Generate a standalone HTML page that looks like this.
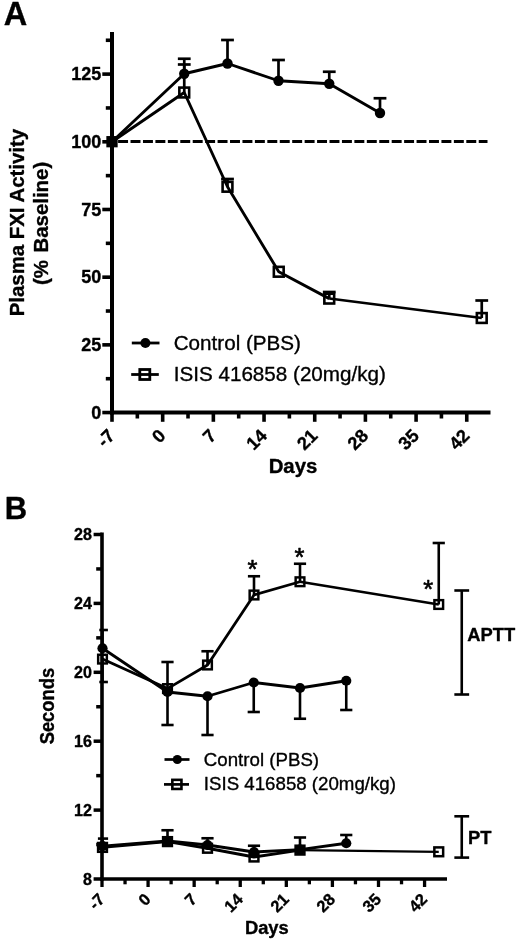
<!DOCTYPE html>
<html><head><meta charset="utf-8"><title>Figure</title>
<style>
html,body{margin:0;padding:0;background:#fff;}
body{width:520px;height:943px;overflow:hidden;font-family:"Liberation Sans",sans-serif;}
svg{display:block;will-change:transform;}
</style></head><body>
<svg width="520" height="943" viewBox="0 0 520 943">
<rect width="520" height="943" fill="#fff"/>
<line x1="112.00" y1="32.00" x2="112.00" y2="414.55" stroke="#000" stroke-width="4.0" />
<line x1="110.00" y1="412.55" x2="490.50" y2="412.55" stroke="#000" stroke-width="4.0" />
<line x1="102.30" y1="412.55" x2="112.00" y2="412.55" stroke="#000" stroke-width="3.6" />
<text transform="translate(101.30 418.75) scale(1.0 1.03)" font-family="Liberation Sans, sans-serif" font-size="18.0" font-weight="bold" text-anchor="end" fill="#000" stroke="#000" stroke-width="0.35" stroke-linejoin="round" >0</text>
<line x1="105.80" y1="378.71" x2="112.00" y2="378.71" stroke="#000" stroke-width="3.6" />
<line x1="102.30" y1="344.86" x2="112.00" y2="344.86" stroke="#000" stroke-width="3.6" />
<text transform="translate(101.30 351.06) scale(1.0 1.03)" font-family="Liberation Sans, sans-serif" font-size="18.0" font-weight="bold" text-anchor="end" fill="#000" stroke="#000" stroke-width="0.35" stroke-linejoin="round" >25</text>
<line x1="105.80" y1="311.02" x2="112.00" y2="311.02" stroke="#000" stroke-width="3.6" />
<line x1="102.30" y1="277.18" x2="112.00" y2="277.18" stroke="#000" stroke-width="3.6" />
<text transform="translate(101.30 283.38) scale(1.0 1.03)" font-family="Liberation Sans, sans-serif" font-size="18.0" font-weight="bold" text-anchor="end" fill="#000" stroke="#000" stroke-width="0.35" stroke-linejoin="round" >50</text>
<line x1="105.80" y1="243.33" x2="112.00" y2="243.33" stroke="#000" stroke-width="3.6" />
<line x1="102.30" y1="209.49" x2="112.00" y2="209.49" stroke="#000" stroke-width="3.6" />
<text transform="translate(101.30 215.69) scale(1.0 1.03)" font-family="Liberation Sans, sans-serif" font-size="18.0" font-weight="bold" text-anchor="end" fill="#000" stroke="#000" stroke-width="0.35" stroke-linejoin="round" >75</text>
<line x1="105.80" y1="175.64" x2="112.00" y2="175.64" stroke="#000" stroke-width="3.6" />
<line x1="102.30" y1="141.80" x2="112.00" y2="141.80" stroke="#000" stroke-width="3.6" />
<text transform="translate(101.30 148.00) scale(1.0 1.03)" font-family="Liberation Sans, sans-serif" font-size="18.0" font-weight="bold" text-anchor="end" fill="#000" stroke="#000" stroke-width="0.35" stroke-linejoin="round" >100</text>
<line x1="105.80" y1="107.96" x2="112.00" y2="107.96" stroke="#000" stroke-width="3.6" />
<line x1="102.30" y1="74.11" x2="112.00" y2="74.11" stroke="#000" stroke-width="3.6" />
<text transform="translate(101.30 80.31) scale(1.0 1.03)" font-family="Liberation Sans, sans-serif" font-size="18.0" font-weight="bold" text-anchor="end" fill="#000" stroke="#000" stroke-width="0.35" stroke-linejoin="round" >125</text>
<line x1="105.80" y1="40.27" x2="112.00" y2="40.27" stroke="#000" stroke-width="3.6" />
<line x1="112.00" y1="412.55" x2="112.00" y2="421.80" stroke="#000" stroke-width="3.6" />
<text transform="translate(116.00 436.80) rotate(-45)" font-family="Liberation Sans, sans-serif" font-size="18.2" font-weight="bold" text-anchor="end" fill="#000" stroke="#000" stroke-width="0.35" stroke-linejoin="round" >-7</text>
<line x1="137.34" y1="412.55" x2="137.34" y2="418.50" stroke="#000" stroke-width="3.6" />
<line x1="162.68" y1="412.55" x2="162.68" y2="421.80" stroke="#000" stroke-width="3.6" />
<text transform="translate(166.68 436.80) rotate(-45)" font-family="Liberation Sans, sans-serif" font-size="18.2" font-weight="bold" text-anchor="end" fill="#000" stroke="#000" stroke-width="0.35" stroke-linejoin="round" >0</text>
<line x1="188.02" y1="412.55" x2="188.02" y2="418.50" stroke="#000" stroke-width="3.6" />
<line x1="213.36" y1="412.55" x2="213.36" y2="421.80" stroke="#000" stroke-width="3.6" />
<text transform="translate(217.36 436.80) rotate(-45)" font-family="Liberation Sans, sans-serif" font-size="18.2" font-weight="bold" text-anchor="end" fill="#000" stroke="#000" stroke-width="0.35" stroke-linejoin="round" >7</text>
<line x1="238.70" y1="412.55" x2="238.70" y2="418.50" stroke="#000" stroke-width="3.6" />
<line x1="264.04" y1="412.55" x2="264.04" y2="421.80" stroke="#000" stroke-width="3.6" />
<text transform="translate(268.04 436.80) rotate(-45)" font-family="Liberation Sans, sans-serif" font-size="18.2" font-weight="bold" text-anchor="end" fill="#000" stroke="#000" stroke-width="0.35" stroke-linejoin="round" >14</text>
<line x1="289.38" y1="412.55" x2="289.38" y2="418.50" stroke="#000" stroke-width="3.6" />
<line x1="314.72" y1="412.55" x2="314.72" y2="421.80" stroke="#000" stroke-width="3.6" />
<text transform="translate(318.72 436.80) rotate(-45)" font-family="Liberation Sans, sans-serif" font-size="18.2" font-weight="bold" text-anchor="end" fill="#000" stroke="#000" stroke-width="0.35" stroke-linejoin="round" >21</text>
<line x1="340.06" y1="412.55" x2="340.06" y2="418.50" stroke="#000" stroke-width="3.6" />
<line x1="365.40" y1="412.55" x2="365.40" y2="421.80" stroke="#000" stroke-width="3.6" />
<text transform="translate(369.40 436.80) rotate(-45)" font-family="Liberation Sans, sans-serif" font-size="18.2" font-weight="bold" text-anchor="end" fill="#000" stroke="#000" stroke-width="0.35" stroke-linejoin="round" >28</text>
<line x1="390.74" y1="412.55" x2="390.74" y2="418.50" stroke="#000" stroke-width="3.6" />
<line x1="416.08" y1="412.55" x2="416.08" y2="421.80" stroke="#000" stroke-width="3.6" />
<text transform="translate(420.08 436.80) rotate(-45)" font-family="Liberation Sans, sans-serif" font-size="18.2" font-weight="bold" text-anchor="end" fill="#000" stroke="#000" stroke-width="0.35" stroke-linejoin="round" >35</text>
<line x1="441.42" y1="412.55" x2="441.42" y2="418.50" stroke="#000" stroke-width="3.6" />
<line x1="466.76" y1="412.55" x2="466.76" y2="421.80" stroke="#000" stroke-width="3.6" />
<text transform="translate(470.76 436.80) rotate(-45)" font-family="Liberation Sans, sans-serif" font-size="18.2" font-weight="bold" text-anchor="end" fill="#000" stroke="#000" stroke-width="0.35" stroke-linejoin="round" >42</text>
<text transform="translate(293.00 473.00) scale(1.0 1.03)" font-family="Liberation Sans, sans-serif" font-size="20.4" font-weight="bold" text-anchor="middle" fill="#000" stroke="#000" stroke-width="0.35" stroke-linejoin="round" >Days</text>
<text transform="translate(24.20 222.60) rotate(-90) scale(1.0 1.02)" font-family="Liberation Sans, sans-serif" font-size="20.4" font-weight="bold" text-anchor="middle" fill="#000" stroke="#000" stroke-width="0.35" stroke-linejoin="round" >Plasma FXI Activity</text>
<text transform="translate(48.20 223.40) rotate(-90) scale(1.0 1.02)" font-family="Liberation Sans, sans-serif" font-size="20.4" font-weight="bold" text-anchor="middle" fill="#000" stroke="#000" stroke-width="0.35" stroke-linejoin="round" word-spacing="1.9">(% Baseline)</text>
<text transform="translate(3.80 25.00)" font-family="Liberation Sans, sans-serif" font-size="32.5" font-weight="bold" text-anchor="start" fill="#000" stroke="#000" stroke-width="0.35" stroke-linejoin="round" >A</text>
<line x1="112.00" y1="141.60" x2="487.50" y2="141.60" stroke="#000" stroke-width="3.0" stroke-dasharray="9.95 2.486" stroke-dashoffset="6.34"/>
<line x1="184.25" y1="73.75" x2="184.25" y2="58.75" stroke="#000" stroke-width="2.7" />
<line x1="177.85" y1="58.75" x2="190.65" y2="58.75" stroke="#000" stroke-width="2.7" />
<line x1="227.50" y1="63.50" x2="227.50" y2="40.00" stroke="#000" stroke-width="2.7" />
<line x1="221.10" y1="40.00" x2="233.90" y2="40.00" stroke="#000" stroke-width="2.7" />
<line x1="278.50" y1="80.75" x2="278.50" y2="60.00" stroke="#000" stroke-width="2.7" />
<line x1="272.10" y1="60.00" x2="284.90" y2="60.00" stroke="#000" stroke-width="2.7" />
<line x1="329.25" y1="83.75" x2="329.25" y2="71.75" stroke="#000" stroke-width="2.7" />
<line x1="322.85" y1="71.75" x2="335.65" y2="71.75" stroke="#000" stroke-width="2.7" />
<line x1="380.00" y1="113.00" x2="380.00" y2="98.25" stroke="#000" stroke-width="2.7" />
<line x1="373.60" y1="98.25" x2="386.40" y2="98.25" stroke="#000" stroke-width="2.7" />
<line x1="184.25" y1="92.50" x2="184.25" y2="64.50" stroke="#000" stroke-width="2.7" />
<line x1="177.85" y1="64.50" x2="190.65" y2="64.50" stroke="#000" stroke-width="2.7" />
<line x1="227.50" y1="186.75" x2="227.50" y2="179.00" stroke="#000" stroke-width="2.7" />
<line x1="221.10" y1="179.00" x2="233.90" y2="179.00" stroke="#000" stroke-width="2.7" />
<line x1="329.25" y1="298.60" x2="329.25" y2="292.00" stroke="#000" stroke-width="2.7" />
<line x1="322.85" y1="292.00" x2="335.65" y2="292.00" stroke="#000" stroke-width="2.7" />
<line x1="481.75" y1="318.00" x2="481.75" y2="300.50" stroke="#000" stroke-width="2.7" />
<line x1="475.35" y1="300.50" x2="488.15" y2="300.50" stroke="#000" stroke-width="2.7" />
<polyline points="112.00,141.70 184.25,73.75 227.50,63.50 278.50,80.75 329.25,83.75 380.00,113.00" fill="none" stroke="#000" stroke-width="2.9" stroke-linejoin="round"/>
<polyline points="112.00,141.70 184.25,92.50 227.50,186.75 278.75,271.75 329.25,298.60" fill="none" stroke="#000" stroke-width="2.9" stroke-linejoin="round"/>
<polyline points="329.25,298.60 481.75,318.00" fill="none" stroke="#000" stroke-width="2.5" stroke-linejoin="round"/>
<circle cx="184.25" cy="73.75" r="5.2" fill="#000"/>
<circle cx="227.50" cy="63.50" r="5.2" fill="#000"/>
<circle cx="278.50" cy="80.75" r="5.2" fill="#000"/>
<circle cx="329.25" cy="83.75" r="5.2" fill="#000"/>
<circle cx="380.00" cy="113.00" r="5.2" fill="#000"/>
<circle cx="112.00" cy="141.70" r="5.2" fill="#000"/>
<rect x="179.35" y="87.60" width="9.8" height="9.8" fill="none" stroke="#000" stroke-width="2.6"/>
<rect x="222.60" y="181.85" width="9.8" height="9.8" fill="none" stroke="#000" stroke-width="2.6"/>
<rect x="273.85" y="266.85" width="9.8" height="9.8" fill="none" stroke="#000" stroke-width="2.6"/>
<rect x="324.35" y="293.70" width="9.8" height="9.8" fill="none" stroke="#000" stroke-width="2.6"/>
<rect x="476.85" y="313.10" width="9.8" height="9.8" fill="none" stroke="#000" stroke-width="2.6"/>
<rect x="107.50" y="137.20" width="9.0" height="9.0" fill="#000" stroke="#000" stroke-width="2.3"/>
<line x1="131.80" y1="343.00" x2="159.50" y2="343.00" stroke="#000" stroke-width="2.8" />
<circle cx="145.40" cy="343.00" r="5.0" fill="#000"/>
<line x1="131.20" y1="374.50" x2="158.80" y2="374.50" stroke="#000" stroke-width="2.8" />
<rect x="139.80" y="369.50" width="10.0" height="10.0" fill="none" stroke="#000" stroke-width="2.8"/>
<text transform="translate(173.70 350.10) scale(1.0 1.02)" font-family="Liberation Sans, sans-serif" font-size="20.65" font-weight="normal" text-anchor="start" fill="#000" stroke="#000" stroke-width="0.35" stroke-linejoin="round" >Control (PBS)</text>
<text transform="translate(173.70 380.70) scale(1.0 1.02)" font-family="Liberation Sans, sans-serif" font-size="20.65" font-weight="normal" text-anchor="start" fill="#000" stroke="#000" stroke-width="0.35" stroke-linejoin="round" >ISIS 416858 (20mg/kg)</text>
<line x1="102.00" y1="532.50" x2="102.00" y2="880.80" stroke="#000" stroke-width="3.6" />
<line x1="100.20" y1="879.00" x2="447.00" y2="879.00" stroke="#000" stroke-width="3.6" />
<line x1="93.60" y1="879.00" x2="102.00" y2="879.00" stroke="#000" stroke-width="3.5" />
<text transform="translate(92.00 884.80) scale(1.0 1.03)" font-family="Liberation Sans, sans-serif" font-size="16.1" font-weight="bold" text-anchor="end" fill="#000" stroke="#000" stroke-width="0.35" stroke-linejoin="round" >8</text>
<line x1="96.20" y1="844.55" x2="102.00" y2="844.55" stroke="#000" stroke-width="3.5" />
<line x1="93.60" y1="810.10" x2="102.00" y2="810.10" stroke="#000" stroke-width="3.5" />
<text transform="translate(92.00 815.90) scale(1.0 1.03)" font-family="Liberation Sans, sans-serif" font-size="16.1" font-weight="bold" text-anchor="end" fill="#000" stroke="#000" stroke-width="0.35" stroke-linejoin="round" >12</text>
<line x1="96.20" y1="775.65" x2="102.00" y2="775.65" stroke="#000" stroke-width="3.5" />
<line x1="93.60" y1="741.20" x2="102.00" y2="741.20" stroke="#000" stroke-width="3.5" />
<text transform="translate(92.00 747.00) scale(1.0 1.03)" font-family="Liberation Sans, sans-serif" font-size="16.1" font-weight="bold" text-anchor="end" fill="#000" stroke="#000" stroke-width="0.35" stroke-linejoin="round" >16</text>
<line x1="96.20" y1="706.75" x2="102.00" y2="706.75" stroke="#000" stroke-width="3.5" />
<line x1="93.60" y1="672.30" x2="102.00" y2="672.30" stroke="#000" stroke-width="3.5" />
<text transform="translate(92.00 678.10) scale(1.0 1.03)" font-family="Liberation Sans, sans-serif" font-size="16.1" font-weight="bold" text-anchor="end" fill="#000" stroke="#000" stroke-width="0.35" stroke-linejoin="round" >20</text>
<line x1="96.20" y1="637.85" x2="102.00" y2="637.85" stroke="#000" stroke-width="3.5" />
<line x1="93.60" y1="603.40" x2="102.00" y2="603.40" stroke="#000" stroke-width="3.5" />
<text transform="translate(92.00 609.20) scale(1.0 1.03)" font-family="Liberation Sans, sans-serif" font-size="16.1" font-weight="bold" text-anchor="end" fill="#000" stroke="#000" stroke-width="0.35" stroke-linejoin="round" >24</text>
<line x1="96.20" y1="568.95" x2="102.00" y2="568.95" stroke="#000" stroke-width="3.5" />
<line x1="93.60" y1="534.50" x2="102.00" y2="534.50" stroke="#000" stroke-width="3.5" />
<text transform="translate(92.00 540.30) scale(1.0 1.03)" font-family="Liberation Sans, sans-serif" font-size="16.1" font-weight="bold" text-anchor="end" fill="#000" stroke="#000" stroke-width="0.35" stroke-linejoin="round" >28</text>
<line x1="102.00" y1="879.00" x2="102.00" y2="887.00" stroke="#000" stroke-width="3.3" />
<text transform="translate(105.70 900.40) rotate(-45)" font-family="Liberation Sans, sans-serif" font-size="16.4" font-weight="bold" text-anchor="end" fill="#000" stroke="#000" stroke-width="0.35" stroke-linejoin="round" >-7</text>
<line x1="125.04" y1="879.00" x2="125.04" y2="884.30" stroke="#000" stroke-width="3.3" />
<line x1="148.08" y1="879.00" x2="148.08" y2="887.00" stroke="#000" stroke-width="3.3" />
<text transform="translate(151.78 900.40) rotate(-45)" font-family="Liberation Sans, sans-serif" font-size="16.4" font-weight="bold" text-anchor="end" fill="#000" stroke="#000" stroke-width="0.35" stroke-linejoin="round" >0</text>
<line x1="171.12" y1="879.00" x2="171.12" y2="884.30" stroke="#000" stroke-width="3.3" />
<line x1="194.16" y1="879.00" x2="194.16" y2="887.00" stroke="#000" stroke-width="3.3" />
<text transform="translate(197.86 900.40) rotate(-45)" font-family="Liberation Sans, sans-serif" font-size="16.4" font-weight="bold" text-anchor="end" fill="#000" stroke="#000" stroke-width="0.35" stroke-linejoin="round" >7</text>
<line x1="217.20" y1="879.00" x2="217.20" y2="884.30" stroke="#000" stroke-width="3.3" />
<line x1="240.24" y1="879.00" x2="240.24" y2="887.00" stroke="#000" stroke-width="3.3" />
<text transform="translate(243.94 900.40) rotate(-45)" font-family="Liberation Sans, sans-serif" font-size="16.4" font-weight="bold" text-anchor="end" fill="#000" stroke="#000" stroke-width="0.35" stroke-linejoin="round" >14</text>
<line x1="263.28" y1="879.00" x2="263.28" y2="884.30" stroke="#000" stroke-width="3.3" />
<line x1="286.32" y1="879.00" x2="286.32" y2="887.00" stroke="#000" stroke-width="3.3" />
<text transform="translate(290.02 900.40) rotate(-45)" font-family="Liberation Sans, sans-serif" font-size="16.4" font-weight="bold" text-anchor="end" fill="#000" stroke="#000" stroke-width="0.35" stroke-linejoin="round" >21</text>
<line x1="309.36" y1="879.00" x2="309.36" y2="884.30" stroke="#000" stroke-width="3.3" />
<line x1="332.40" y1="879.00" x2="332.40" y2="887.00" stroke="#000" stroke-width="3.3" />
<text transform="translate(336.10 900.40) rotate(-45)" font-family="Liberation Sans, sans-serif" font-size="16.4" font-weight="bold" text-anchor="end" fill="#000" stroke="#000" stroke-width="0.35" stroke-linejoin="round" >28</text>
<line x1="355.45" y1="879.00" x2="355.45" y2="884.30" stroke="#000" stroke-width="3.3" />
<line x1="378.49" y1="879.00" x2="378.49" y2="887.00" stroke="#000" stroke-width="3.3" />
<text transform="translate(382.19 900.40) rotate(-45)" font-family="Liberation Sans, sans-serif" font-size="16.4" font-weight="bold" text-anchor="end" fill="#000" stroke="#000" stroke-width="0.35" stroke-linejoin="round" >35</text>
<line x1="401.53" y1="879.00" x2="401.53" y2="884.30" stroke="#000" stroke-width="3.3" />
<line x1="424.57" y1="879.00" x2="424.57" y2="887.00" stroke="#000" stroke-width="3.3" />
<text transform="translate(428.27 900.40) rotate(-45)" font-family="Liberation Sans, sans-serif" font-size="16.4" font-weight="bold" text-anchor="end" fill="#000" stroke="#000" stroke-width="0.35" stroke-linejoin="round" >42</text>
<text transform="translate(266.80 934.30)" font-family="Liberation Sans, sans-serif" font-size="18.35" font-weight="bold" text-anchor="middle" fill="#000" stroke="#000" stroke-width="0.35" stroke-linejoin="round" >Days</text>
<text transform="translate(53.50 706.10) rotate(-90) scale(1.0 1.06)" font-family="Liberation Sans, sans-serif" font-size="18.35" font-weight="bold" text-anchor="middle" fill="#000" stroke="#000" stroke-width="0.35" stroke-linejoin="round" >Seconds</text>
<text transform="translate(4.80 518.80) scale(1.0 1.04)" font-family="Liberation Sans, sans-serif" font-size="31" font-weight="bold" text-anchor="start" fill="#000" stroke="#000" stroke-width="0.35" stroke-linejoin="round" >B</text>
<line x1="102.50" y1="648.25" x2="102.50" y2="630.00" stroke="#000" stroke-width="2.6" />
<line x1="99.30" y1="630.00" x2="107.90" y2="630.00" stroke="#000" stroke-width="2.6" />
<line x1="167.50" y1="692.00" x2="167.50" y2="725.00" stroke="#000" stroke-width="2.6" />
<line x1="161.40" y1="725.00" x2="173.60" y2="725.00" stroke="#000" stroke-width="2.6" />
<line x1="207.50" y1="696.25" x2="207.50" y2="735.00" stroke="#000" stroke-width="2.6" />
<line x1="201.40" y1="735.00" x2="213.60" y2="735.00" stroke="#000" stroke-width="2.6" />
<line x1="253.75" y1="682.50" x2="253.75" y2="712.00" stroke="#000" stroke-width="2.6" />
<line x1="247.65" y1="712.00" x2="259.85" y2="712.00" stroke="#000" stroke-width="2.6" />
<line x1="300.00" y1="688.00" x2="300.00" y2="718.75" stroke="#000" stroke-width="2.6" />
<line x1="293.90" y1="718.75" x2="306.10" y2="718.75" stroke="#000" stroke-width="2.6" />
<line x1="346.25" y1="680.75" x2="346.25" y2="710.00" stroke="#000" stroke-width="2.6" />
<line x1="340.15" y1="710.00" x2="352.35" y2="710.00" stroke="#000" stroke-width="2.6" />
<line x1="102.50" y1="659.10" x2="102.50" y2="682.00" stroke="#000" stroke-width="2.6" />
<line x1="99.30" y1="682.00" x2="107.90" y2="682.00" stroke="#000" stroke-width="2.6" />
<line x1="167.50" y1="688.60" x2="167.50" y2="662.00" stroke="#000" stroke-width="2.6" />
<line x1="161.40" y1="662.00" x2="173.60" y2="662.00" stroke="#000" stroke-width="2.6" />
<line x1="207.50" y1="665.00" x2="207.50" y2="651.25" stroke="#000" stroke-width="2.6" />
<line x1="201.40" y1="651.25" x2="213.60" y2="651.25" stroke="#000" stroke-width="2.6" />
<line x1="254.00" y1="595.00" x2="254.00" y2="576.25" stroke="#000" stroke-width="2.6" />
<line x1="247.90" y1="576.25" x2="260.10" y2="576.25" stroke="#000" stroke-width="2.6" />
<line x1="300.00" y1="581.75" x2="300.00" y2="563.75" stroke="#000" stroke-width="2.6" />
<line x1="293.90" y1="563.75" x2="306.10" y2="563.75" stroke="#000" stroke-width="2.6" />
<line x1="438.75" y1="604.50" x2="438.75" y2="543.00" stroke="#000" stroke-width="2.6" />
<line x1="432.65" y1="543.00" x2="444.85" y2="543.00" stroke="#000" stroke-width="2.6" />
<polyline points="102.50,648.25 167.50,692.00 207.50,696.25 253.75,682.50 300.00,688.00 346.25,680.75" fill="none" stroke="#000" stroke-width="2.8" stroke-linejoin="round"/>
<polyline points="102.50,659.10 167.50,688.60 207.50,665.00 254.00,595.00 300.00,581.75" fill="none" stroke="#000" stroke-width="2.8" stroke-linejoin="round"/>
<polyline points="300.00,581.75 438.75,604.50" fill="none" stroke="#000" stroke-width="2.3" stroke-linejoin="round"/>
<circle cx="102.50" cy="648.25" r="5.1" fill="#000"/>
<circle cx="167.50" cy="692.00" r="5.1" fill="#000"/>
<circle cx="207.50" cy="696.25" r="5.1" fill="#000"/>
<circle cx="253.75" cy="682.50" r="5.1" fill="#000"/>
<circle cx="300.00" cy="688.00" r="5.1" fill="#000"/>
<circle cx="346.25" cy="680.75" r="5.1" fill="#000"/>
<rect x="98.15" y="654.75" width="8.7" height="8.7" fill="none" stroke="#000" stroke-width="2.45"/>
<rect x="163.15" y="684.25" width="8.7" height="8.7" fill="none" stroke="#000" stroke-width="2.45"/>
<rect x="203.15" y="660.65" width="8.7" height="8.7" fill="none" stroke="#000" stroke-width="2.45"/>
<rect x="249.65" y="590.65" width="8.7" height="8.7" fill="none" stroke="#000" stroke-width="2.45"/>
<rect x="295.65" y="577.40" width="8.7" height="8.7" fill="none" stroke="#000" stroke-width="2.45"/>
<rect x="434.40" y="600.15" width="8.7" height="8.7" fill="none" stroke="#000" stroke-width="2.45"/>
<text transform="translate(252.50 578.14)" font-family="Liberation Sans, sans-serif" font-size="25.5" font-weight="normal" text-anchor="middle" fill="#000" stroke="#000" stroke-width="0.6" stroke-linejoin="round" >*</text>
<text transform="translate(299.50 565.64)" font-family="Liberation Sans, sans-serif" font-size="25.5" font-weight="normal" text-anchor="middle" fill="#000" stroke="#000" stroke-width="0.6" stroke-linejoin="round" >*</text>
<text transform="translate(428.25 598.39)" font-family="Liberation Sans, sans-serif" font-size="25.5" font-weight="normal" text-anchor="middle" fill="#000" stroke="#000" stroke-width="0.6" stroke-linejoin="round" >*</text>
<line x1="102.50" y1="846.20" x2="102.50" y2="838.60" stroke="#000" stroke-width="2.6" />
<line x1="97.90" y1="838.60" x2="108.10" y2="838.60" stroke="#000" stroke-width="2.6" />
<line x1="167.50" y1="841.00" x2="167.50" y2="830.25" stroke="#000" stroke-width="2.6" />
<line x1="161.40" y1="830.25" x2="173.60" y2="830.25" stroke="#000" stroke-width="2.6" />
<line x1="207.50" y1="845.00" x2="207.50" y2="838.25" stroke="#000" stroke-width="2.6" />
<line x1="201.40" y1="838.25" x2="213.60" y2="838.25" stroke="#000" stroke-width="2.6" />
<line x1="254.00" y1="852.00" x2="254.00" y2="845.75" stroke="#000" stroke-width="2.6" />
<line x1="247.90" y1="845.75" x2="260.10" y2="845.75" stroke="#000" stroke-width="2.6" />
<line x1="300.00" y1="849.70" x2="300.00" y2="837.50" stroke="#000" stroke-width="2.6" />
<line x1="293.90" y1="837.50" x2="306.10" y2="837.50" stroke="#000" stroke-width="2.6" />
<line x1="346.25" y1="843.25" x2="346.25" y2="835.00" stroke="#000" stroke-width="2.6" />
<line x1="340.15" y1="835.00" x2="352.35" y2="835.00" stroke="#000" stroke-width="2.6" />
<polyline points="102.50,846.20 167.50,841.00 207.50,845.00 254.00,852.00 300.00,849.70 346.25,843.25" fill="none" stroke="#000" stroke-width="2.8" stroke-linejoin="round"/>
<polyline points="102.50,847.40 167.50,841.60 207.50,848.25 254.00,857.00 300.00,850.10" fill="none" stroke="#000" stroke-width="2.8" stroke-linejoin="round"/>
<polyline points="300.00,850.10 438.75,851.80" fill="none" stroke="#000" stroke-width="2.2" stroke-linejoin="round"/>
<circle cx="102.50" cy="846.20" r="5.1" fill="#000"/>
<circle cx="167.50" cy="841.00" r="5.1" fill="#000"/>
<circle cx="207.50" cy="845.00" r="5.1" fill="#000"/>
<circle cx="254.00" cy="852.00" r="5.1" fill="#000"/>
<circle cx="300.00" cy="849.70" r="5.1" fill="#000"/>
<circle cx="346.25" cy="843.25" r="5.1" fill="#000"/>
<rect x="98.10" y="843.00" width="8.8" height="8.8" fill="none" stroke="#000" stroke-width="2.5"/>
<rect x="163.10" y="837.20" width="8.8" height="8.8" fill="none" stroke="#000" stroke-width="2.5"/>
<rect x="203.10" y="843.85" width="8.8" height="8.8" fill="none" stroke="#000" stroke-width="2.5"/>
<rect x="249.60" y="852.60" width="8.8" height="8.8" fill="none" stroke="#000" stroke-width="2.5"/>
<rect x="295.60" y="845.70" width="8.8" height="8.8" fill="none" stroke="#000" stroke-width="2.5"/>
<rect x="434.35" y="847.40" width="8.8" height="8.8" fill="none" stroke="#000" stroke-width="2.5"/>
<line x1="461.75" y1="590.50" x2="461.75" y2="694.50" stroke="#000" stroke-width="2.6" />
<line x1="454.35" y1="590.50" x2="469.15" y2="590.50" stroke="#000" stroke-width="2.6" />
<line x1="454.35" y1="694.50" x2="469.15" y2="694.50" stroke="#000" stroke-width="2.6" />
<line x1="461.75" y1="816.30" x2="461.75" y2="857.60" stroke="#000" stroke-width="2.6" />
<line x1="454.35" y1="816.30" x2="469.15" y2="816.30" stroke="#000" stroke-width="2.6" />
<line x1="454.35" y1="857.60" x2="469.15" y2="857.60" stroke="#000" stroke-width="2.6" />
<text transform="translate(467.30 640.50)" font-family="Liberation Sans, sans-serif" font-size="18.35" font-weight="bold" text-anchor="start" fill="#000" stroke="#000" stroke-width="0.35" stroke-linejoin="round" >APTT</text>
<text transform="translate(468.00 843.50)" font-family="Liberation Sans, sans-serif" font-size="18.4" font-weight="bold" text-anchor="start" fill="#000" stroke="#000" stroke-width="0.35" stroke-linejoin="round" >PT</text>
<line x1="164.50" y1="759.50" x2="189.50" y2="759.50" stroke="#000" stroke-width="2.7" />
<circle cx="177.30" cy="759.50" r="4.6" fill="#000"/>
<line x1="164.00" y1="784.40" x2="189.00" y2="784.40" stroke="#000" stroke-width="2.7" />
<rect x="172.35" y="779.85" width="9.1" height="9.1" fill="none" stroke="#000" stroke-width="2.6"/>
<text transform="translate(203.80 765.60) scale(1.0 1.01)" font-family="Liberation Sans, sans-serif" font-size="18.7" font-weight="normal" text-anchor="start" fill="#000" stroke="#000" stroke-width="0.35" stroke-linejoin="round" >Control (PBS)</text>
<text transform="translate(203.80 790.30) scale(1.0 1.01)" font-family="Liberation Sans, sans-serif" font-size="18.7" font-weight="normal" text-anchor="start" fill="#000" stroke="#000" stroke-width="0.35" stroke-linejoin="round" >ISIS 416858 (20mg/kg)</text>
</svg>
</body></html>
